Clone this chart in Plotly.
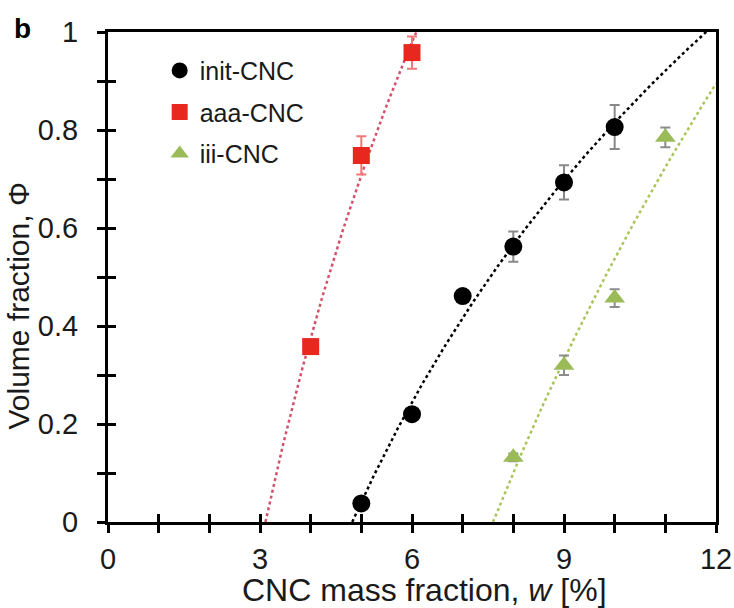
import numpy as np
import plotly.graph_objects as go

# ---- data ----
init_x = [5, 6, 7, 8, 9, 10]
init_y = [0.038, 0.220, 0.461, 0.562, 0.693, 0.806]
init_err = [0.008, 0.010, 0.010, 0.031, 0.035, 0.045]

aaa_x = [4, 5, 6]
aaa_y = [0.358, 0.748, 0.958]
aaa_err = [0.010, 0.039, 0.033]

iii_x = [8, 9, 10, 11]
iii_y = [0.132, 0.320, 0.457, 0.785]
iii_err = [0.008, 0.020, 0.018, 0.020]

x_ticks = list(range(0, 13))
x_ticktext = [str(v) if v % 3 == 0 else "" for v in x_ticks]
y_ticks = [round(0.1 * i, 1) for i in range(11)]
y_ticktext = ["0", "", "0.2", "", "0.4", "", "0.6", "", "0.8", "", "1"]

FONT = "Liberation Sans, Arial, sans-serif"
TXT = "#1a1a1a"

fig = go.Figure()


def log_fit_curve(xs, ys):
    a, b = np.polyfit(np.log(xs), ys, 1)
    x0 = float(np.exp(-b / a))
    xx = np.linspace(x0, 12, 300)
    return xx, a * np.log(xx) + b


series = [
    ("init-CNC", init_x, init_y, init_err, "circle", "black", "#888888", "black", 18),
    ("aaa-CNC", aaa_x, aaa_y, aaa_err, "square", "#e8281e", "#f07878", "#d4506a", 17),
    ("iii-CNC", iii_x, iii_y, iii_err, "triangle-up", "#9bbb59", "#8c8c8c", "#a9c55a", 18),
]

# fit lines
for name, xs, ys, err, sym, col, ecol, lcol, size in series:
    fx, fy = log_fit_curve(xs, ys)
    fig.add_trace(go.Scatter(x=fx, y=fy, mode="lines",
                             line=dict(color=lcol, width=2.5, dash="dot"),
                             showlegend=False, hoverinfo="skip"))

# markers
for name, xs, ys, err, sym, col, ecol, lcol, size in series:
    fig.add_trace(go.Scatter(
        x=xs, y=ys, mode="markers", name=name, legendgroup=name,
        marker=dict(symbol=sym, color=col, size=size, line=dict(width=0)),
        error_y=dict(type="data", array=err, visible=True, color=ecol,
                     thickness=2, width=5),
        cliponaxis=False,
    ))

# dummy trace for overlay (inside ticks) axes
fig.add_trace(go.Scatter(x=[None], y=[None], xaxis="x2", yaxis="y2",
                         showlegend=False, hoverinfo="skip"))

axis_common = dict(showgrid=False, zeroline=False, tickcolor="black",
                   tickwidth=3, ticklen=8, automargin=False)

fig.update_layout(
    width=734, height=608,
    margin=dict(l=108, r=18, t=32, b=86),
    plot_bgcolor="white", paper_bgcolor="white",
    font=dict(family=FONT, color=TXT),
    showlegend=True,
    legend=dict(x=0.085, y=0.968, xanchor="left", yanchor="top",
                font=dict(size=25, family=FONT, color=TXT),
                bgcolor="rgba(0,0,0,0)", tracegroupgap=6,
                itemsizing="trace"),
    xaxis=dict(range=[0, 12], tickmode="array", tickvals=x_ticks,
               ticktext=x_ticktext, ticks="outside", showline=True,
               linewidth=3, linecolor="black", mirror=True,
               tickfont=dict(size=29, family=FONT, color=TXT),
               ticklabelstandoff=1,
               **axis_common),
    yaxis=dict(range=[0, 1], tickmode="array", tickvals=y_ticks,
               ticktext=y_ticktext, ticks="outside", showline=True,
               linewidth=3, linecolor="black", mirror=True,
               tickfont=dict(size=29, family=FONT, color=TXT),
               ticklabelstandoff=13,
               **axis_common),
    xaxis2=dict(overlaying="x", anchor="y", side="bottom", range=[0, 12],
                tickmode="array", tickvals=x_ticks, ticks="inside",
                showticklabels=False, showline=False, **axis_common),
    yaxis2=dict(overlaying="y", anchor="x", side="left", range=[0, 1],
                tickmode="array", tickvals=y_ticks, ticks="inside",
                showticklabels=False, showline=False, **axis_common),
    annotations=[
        dict(text="<b>b</b>", xref="paper", yref="paper",
             x=-0.1414, y=1.008, xanchor="center", yanchor="middle",
             showarrow=False, font=dict(size=28, family=FONT, color="black")),
        dict(text="CNC mass fraction, <i>w</i> [%]", xref="paper", yref="paper",
             x=0.521, y=-0.139, xanchor="center", yanchor="middle",
             showarrow=False, font=dict(size=32, family=FONT, color=TXT)),
        dict(text="Volume fraction, Φ", xref="paper", yref="paper",
             x=-0.147, y=0.441, xanchor="center", yanchor="middle",
             textangle=-90,
             showarrow=False, font=dict(size=30, family=FONT, color=TXT)),
    ],
)

fig.write_html("out.html",
               config={"displayModeBar": False},
               post_script="document.body.style.margin='0';document.body.style.overflow='hidden';")
